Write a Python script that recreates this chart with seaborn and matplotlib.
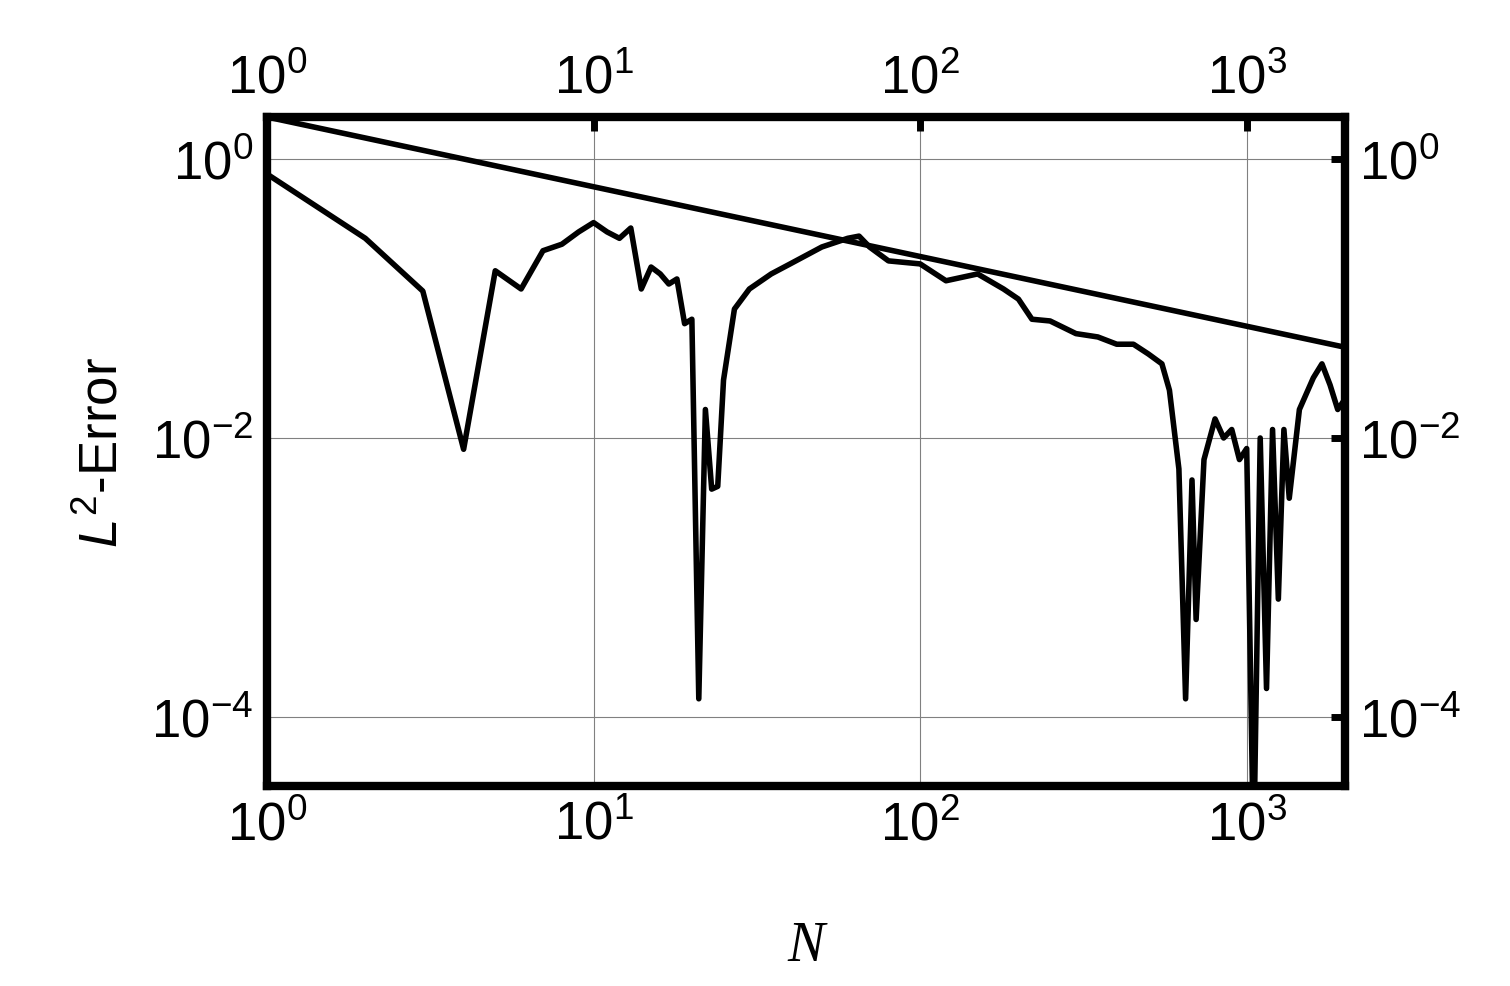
import numpy as np
import matplotlib
matplotlib.use("Agg")
import matplotlib.pyplot as plt
import seaborn as sns

N = [1,2,3,4,5,6,7,8,9,10,11,12,13,14,15,16,17,18,19,20,21,22,23,24,25,27,30,35,40,50,60,65,70,80,100,120,150,180,200,220,250,300,350,400,450,500,550,580,620,650,680,700,740,800,850,900,950,1000,1050,1100,1150,1200,1250,1300,1350,1450,1600,1700,1800,1900,2000]
err = [0.78,0.27,0.113,0.0083,0.158,0.117,0.22,0.245,0.30,0.35,0.30,0.27,0.32,0.117,0.168,0.15,0.127,0.138,0.066,0.071,1.35e-4,0.016,0.0043,0.0045,0.026,0.084,0.117,0.15,0.177,0.234,0.27,0.28,0.234,0.186,0.177,0.134,0.15,0.117,0.099,0.071,0.069,0.056,0.053,0.047,0.047,0.040,0.034,0.022,0.006,1.35e-4,0.005,5e-4,0.007,0.0137,0.01,0.0115,0.007,0.0084,1e-5,0.01,1.6e-4,0.0115,7e-4,0.0115,0.0037,0.016,0.027,0.034,0.024,0.016,0.019]
ref_N = [1, 2000]
ref_err = [2.0, 2.0/np.sqrt(2000)]

sns.set_theme(style="white")
plt.rcParams['font.family'] = ['Liberation Sans', 'DejaVu Sans']
plt.rcParams['mathtext.fontset'] = 'custom'
plt.rcParams['mathtext.it'] = 'Liberation Sans:italic'
plt.rcParams['mathtext.rm'] = 'Liberation Sans'
plt.rcParams['text.color'] = 'black'
plt.rcParams['axes.labelcolor'] = 'black'

fig = plt.figure(figsize=(15.1, 9.87), dpi=100)
ax = fig.add_axes([267/1510, 1-787/987, (1345-267)/1510, (787-118)/987])
sns.lineplot(x=ref_N, y=ref_err, ax=ax, color='black', lw=4)
sns.lineplot(x=N, y=err, ax=ax, color='black', lw=4)
ax.set_xscale('log'); ax.set_yscale('log')
ax.set_xlim(1, 2000); ax.set_ylim(3.2e-5, 2.0)
ax.set_xticks([1, 10, 100, 1000]); ax.set_yticks([1, 1e-2, 1e-4])
ax.minorticks_off()
ax.grid(True, color='gray', lw=0.8)
for s in ax.spines.values():
    s.set_linewidth(6); s.set_color('black')
ax.tick_params(which='major', direction='in', length=10, width=5, labelsize=38,
               colors='black', top=True, right=True, labeltop=True, labelright=True, pad=10)
ax.set_xlabel('N', fontsize=40, family='Liberation Serif', style='italic', labelpad=50)
ax.set_ylabel('$L^2$-Error', fontsize=38, labelpad=16)
fig.savefig('out.png', dpi=100)
